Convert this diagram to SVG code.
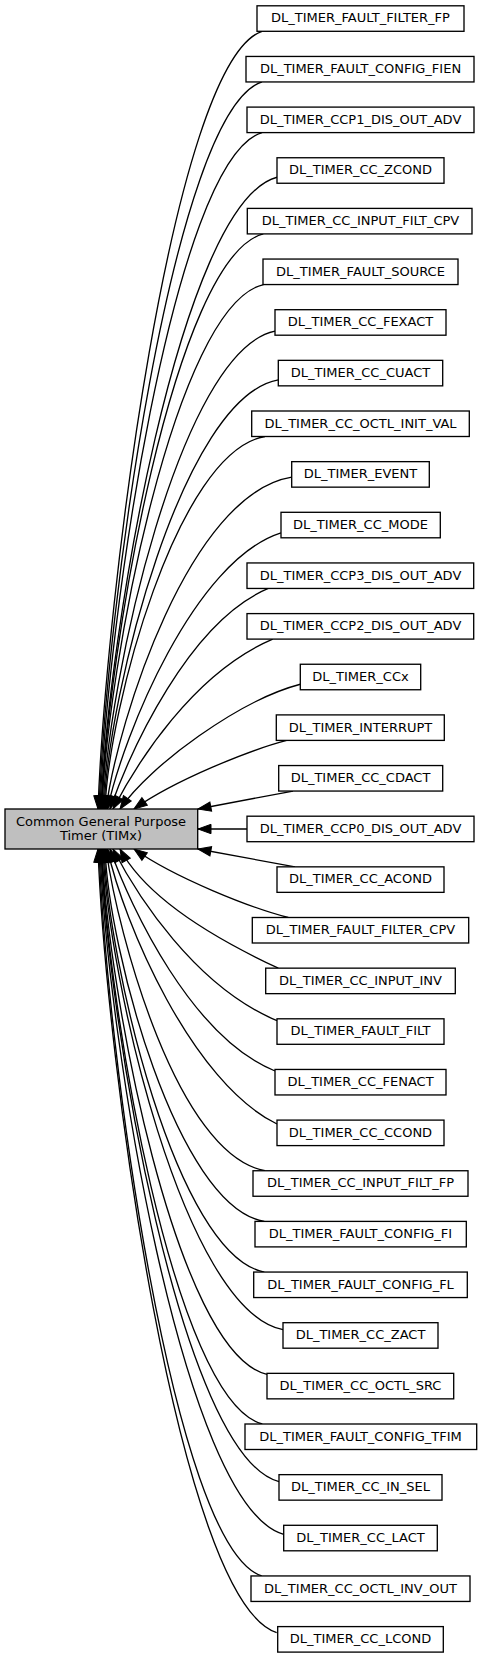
<svg xmlns="http://www.w3.org/2000/svg" width="481" height="1659" viewBox="0 0 481 1659">
<style>
.n rect{fill:#ffffff;stroke:#000000;stroke-width:1.33}
.m rect{fill:#bfbfbf;stroke:#000000;stroke-width:1.33}
text{font-family:"DejaVu Sans","Liberation Sans",sans-serif;font-size:13px;fill:#000000;text-anchor:middle}
.e path{fill:none;stroke:#000000;stroke-width:1.33;marker-end:url(#ah)}
</style>
<defs>
<marker id="ah" markerUnits="userSpaceOnUse" viewBox="-15 -7 16 14" refX="0" refY="0" markerWidth="16" markerHeight="14" orient="auto" overflow="visible">
<path d="M0,0 L-13,-4.7 L-13,4.7 Z" fill="#000000" stroke="#000000" stroke-width="1"/>
</marker>
</defs>
<rect width="481" height="1659" fill="#ffffff"/>
<g id="edges" class="e">
<path d="M262,31.3 C171.8,62.4 105.8,599 98,809"/>
<path d="M262,81.95 C172.35,111.05 106.3,612.7 99,809"/>
<path d="M262,132.6 C172.9,159.7 106.8,626.4 100,809"/>
<path d="M277,177.25 C180.2,202.5 107.3,638.4 101,809"/>
<path d="M263.3,233.9 C174.3,256.9 107.25,653.7 101.5,809"/>
<path d="M263.5,284.55 C174.7,305.55 107.2,667.4 102,809"/>
<path d="M275,331.2 C180.4,350.3 107.8,680 103,809"/>
<path d="M278.3,379.85 C182.4,397.05 108.3,693.1 104,809"/>
<path d="M265,436.5 C177,451.4 108.7,708.4 105,809"/>
<path d="M291.7,477.15 C189.6,493.75 118,719.4 106,809"/>
<path d="M281,532.8 C194.25,560.4 123.5,734.4 107.5,809"/>
<path d="M268.3,588.45 C189.15,621.55 131,749.5 110,809"/>
<path d="M272.7,639.1 C192.85,673.1 137,763.1 113,809"/>
<path d="M300.3,684.25 C240,700 150,765 120,809"/>
<path d="M286.7,740.4 C250,750 175,780 134,809"/>
<path d="M293,791.05 L198,809"/>
<path d="M247,829 L198,829"/>
<path d="M295,866.85 L198,849"/>
<path d="M288.3,917.5 C251,908 175,878 134,849"/>
<path d="M278.3,968.15 C235,948 150,905 120,849"/>
<path d="M277,1020.7 C195,986.4 137,895.4 113,849"/>
<path d="M275,1071 C192.5,1037.7 131,909 110,849"/>
<path d="M277,1124 C192.25,1083 123.5,923.25 107.5,849"/>
<path d="M265,1170.75 C177.55,1154.7 118,935.9 106,849"/>
<path d="M264.3,1221.4 C176.7,1206.5 108.7,949.5 105,849"/>
<path d="M264.3,1272.05 C176.2,1255.1 108.2,963.2 104,849"/>
<path d="M283,1329.7 C184,1310.5 107.8,978.8 103,849"/>
<path d="M267,1374.35 C176.25,1353.35 107.3,990.8 102,849"/>
<path d="M262.3,1424 C173.9,1401 107.25,1004.25 101.5,849"/>
<path d="M279,1481.65 C181.1,1456.35 107.3,1019.8 101,849"/>
<path d="M283.7,1534.3 C182.7,1506.9 106.9,1034 100,849"/>
<path d="M261.7,1575.95 C172.2,1546.85 106.3,1045.3 99,849"/>
<path d="M276.7,1632.6 C178.4,1601.3 105.8,1060.6 98,849"/>
</g>
<g id="main" class="m"><rect x="5" y="809" width="192.7" height="40"/><text x="101" y="825.7">Common General Purpose</text><text x="101" y="840">Timer (TIMx)</text></g>
<g id="n0" class="n"><rect x="257" y="5.8" width="207" height="25.5"/><text x="360.5" y="22.4">DL_TIMER_FAULT_FILTER_FP</text></g>
<g id="n1" class="n"><rect x="246" y="56.45" width="228" height="25.5"/><text x="360.5" y="73.05">DL_TIMER_FAULT_CONFIG_FIEN</text></g>
<g id="n2" class="n"><rect x="247" y="107.1" width="227" height="25.5"/><text x="360.5" y="123.7">DL_TIMER_CCP1_DIS_OUT_ADV</text></g>
<g id="n3" class="n"><rect x="277" y="157.75" width="167" height="25.5"/><text x="360.5" y="174.35">DL_TIMER_CC_ZCOND</text></g>
<g id="n4" class="n"><rect x="247.3" y="208.4" width="224.7" height="25.5"/><text x="360.5" y="225">DL_TIMER_CC_INPUT_FILT_CPV</text></g>
<g id="n5" class="n"><rect x="263" y="259.05" width="195" height="25.5"/><text x="360.5" y="275.65">DL_TIMER_FAULT_SOURCE</text></g>
<g id="n6" class="n"><rect x="275" y="309.7" width="171" height="25.5"/><text x="360.5" y="326.3">DL_TIMER_CC_FEXACT</text></g>
<g id="n7" class="n"><rect x="278.3" y="360.35" width="164.4" height="25.5"/><text x="360.5" y="376.95">DL_TIMER_CC_CUACT</text></g>
<g id="n8" class="n"><rect x="251.7" y="411" width="217.6" height="25.5"/><text x="360.5" y="427.6">DL_TIMER_CC_OCTL_INIT_VAL</text></g>
<g id="n9" class="n"><rect x="291.7" y="461.65" width="137.6" height="25.5"/><text x="360.5" y="478.25">DL_TIMER_EVENT</text></g>
<g id="n10" class="n"><rect x="281" y="512.3" width="159.3" height="25.5"/><text x="360.5" y="528.9">DL_TIMER_CC_MODE</text></g>
<g id="n11" class="n"><rect x="247" y="562.95" width="226.7" height="25.5"/><text x="360.5" y="579.55">DL_TIMER_CCP3_DIS_OUT_ADV</text></g>
<g id="n12" class="n"><rect x="247" y="613.6" width="226.7" height="25.5"/><text x="360.5" y="630.2">DL_TIMER_CCP2_DIS_OUT_ADV</text></g>
<g id="n13" class="n"><rect x="300.3" y="664.25" width="120.4" height="25.5"/><text x="360.5" y="680.85">DL_TIMER_CCx</text></g>
<g id="n14" class="n"><rect x="276.3" y="714.9" width="168" height="25.5"/><text x="360.5" y="731.5">DL_TIMER_INTERRUPT</text></g>
<g id="n15" class="n"><rect x="278.7" y="765.55" width="164" height="25.5"/><text x="360.5" y="782.15">DL_TIMER_CC_CDACT</text></g>
<g id="n16" class="n"><rect x="247" y="816.2" width="227" height="25.5"/><text x="360.5" y="832.8">DL_TIMER_CCP0_DIS_OUT_ADV</text></g>
<g id="n17" class="n"><rect x="277" y="866.85" width="167" height="25.5"/><text x="360.5" y="883.45">DL_TIMER_CC_ACOND</text></g>
<g id="n18" class="n"><rect x="252.3" y="917.5" width="216.4" height="25.5"/><text x="360.5" y="934.1">DL_TIMER_FAULT_FILTER_CPV</text></g>
<g id="n19" class="n"><rect x="265.7" y="968.15" width="189.6" height="25.5"/><text x="360.5" y="984.75">DL_TIMER_CC_INPUT_INV</text></g>
<g id="n20" class="n"><rect x="277" y="1018.8" width="167" height="25.5"/><text x="360.5" y="1035.4">DL_TIMER_FAULT_FILT</text></g>
<g id="n21" class="n"><rect x="275" y="1069.45" width="171" height="25.5"/><text x="360.5" y="1086.05">DL_TIMER_CC_FENACT</text></g>
<g id="n22" class="n"><rect x="277" y="1120.1" width="167" height="25.5"/><text x="360.5" y="1136.7">DL_TIMER_CC_CCOND</text></g>
<g id="n23" class="n"><rect x="253" y="1170.75" width="215" height="25.5"/><text x="360.5" y="1187.35">DL_TIMER_CC_INPUT_FILT_FP</text></g>
<g id="n24" class="n"><rect x="255" y="1221.4" width="211.3" height="25.5"/><text x="360.5" y="1238">DL_TIMER_FAULT_CONFIG_FI</text></g>
<g id="n25" class="n"><rect x="253.7" y="1272.05" width="213.6" height="25.5"/><text x="360.5" y="1288.65">DL_TIMER_FAULT_CONFIG_FL</text></g>
<g id="n26" class="n"><rect x="283" y="1322.7" width="155" height="25.5"/><text x="360.5" y="1339.3">DL_TIMER_CC_ZACT</text></g>
<g id="n27" class="n"><rect x="267" y="1373.35" width="186.7" height="25.5"/><text x="360.5" y="1389.95">DL_TIMER_CC_OCTL_SRC</text></g>
<g id="n28" class="n"><rect x="245" y="1424" width="231.7" height="25.5"/><text x="360.5" y="1440.6">DL_TIMER_FAULT_CONFIG_TFIM</text></g>
<g id="n29" class="n"><rect x="279" y="1474.65" width="163" height="25.5"/><text x="360.5" y="1491.25">DL_TIMER_CC_IN_SEL</text></g>
<g id="n30" class="n"><rect x="283.7" y="1525.3" width="153.6" height="25.5"/><text x="360.5" y="1541.9">DL_TIMER_CC_LACT</text></g>
<g id="n31" class="n"><rect x="251" y="1575.95" width="219" height="25.5"/><text x="360.5" y="1592.55">DL_TIMER_CC_OCTL_INV_OUT</text></g>
<g id="n32" class="n"><rect x="277.7" y="1626.6" width="165.6" height="25.5"/><text x="360.5" y="1643.2">DL_TIMER_CC_LCOND</text></g>
</svg>
